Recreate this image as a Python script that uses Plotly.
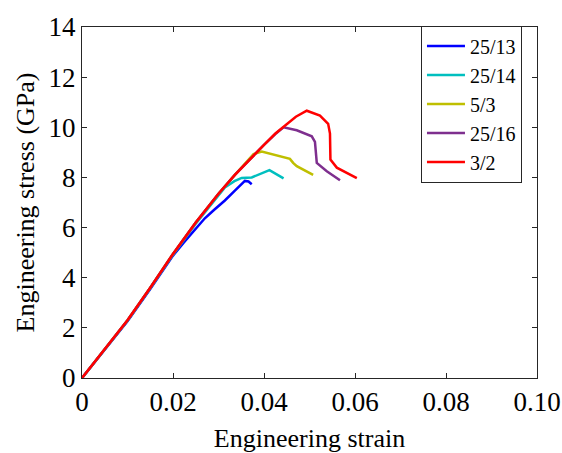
import plotly.graph_objects as go

labels = ["25/13", "25/14", "5/3", "25/16", "3/2"]
colors = ["#0000FF", "#00BFBF", "#BFBF00", "#7E2F8E", "#FF0000"]

strain_25_13 = [0, 0.005, 0.01, 0.015, 0.02, 0.0223, 0.025, 0.027, 0.029, 0.0314, 0.0336, 0.0358, 0.0366, 0.0373]
stress_25_13 = [0, 1.12, 2.26, 3.55, 4.88, 5.39, 5.95, 6.37, 6.7, 7.08, 7.47, 7.86, 7.84, 7.73]

strain_25_14 = [0, 0.005, 0.01, 0.015, 0.02, 0.025, 0.028, 0.0314, 0.0335, 0.0351, 0.0373, 0.0398, 0.0412, 0.0443]
stress_25_14 = [0, 1.13, 2.28, 3.58, 4.92, 6.15, 6.85, 7.6, 7.85, 7.98, 8.0, 8.19, 8.29, 7.96]

strain_5_3 = [0, 0.005, 0.01, 0.015, 0.02, 0.025, 0.03, 0.0336, 0.0365, 0.0377, 0.0395, 0.042, 0.0445, 0.0457, 0.0464, 0.0472, 0.0508]
stress_5_3 = [0, 1.15, 2.3, 3.6, 4.95, 6.2, 7.35, 8.1, 8.68, 8.93, 9.03, 8.92, 8.8, 8.74, 8.58, 8.45, 8.1]

strain_25_16 = [0, 0.005, 0.01, 0.015, 0.02, 0.025, 0.03, 0.0336, 0.037, 0.04, 0.0425, 0.0443, 0.0472, 0.0505, 0.0512, 0.0516, 0.0538, 0.0567]
stress_25_16 = [0, 1.15, 2.3, 3.6, 4.95, 6.2, 7.35, 8.1, 8.75, 9.3, 9.73, 10.0, 9.88, 9.64, 9.42, 8.58, 8.25, 7.89]

strain_3_2 = [0, 0.005, 0.01, 0.015, 0.02, 0.025, 0.03, 0.0336, 0.037, 0.04, 0.0425, 0.0443, 0.047, 0.0494, 0.0523, 0.0541, 0.0545, 0.0546, 0.056, 0.0604]
stress_3_2 = [0, 1.15, 2.3, 3.6, 4.95, 6.2, 7.35, 8.1, 8.75, 9.3, 9.75, 10.03, 10.42, 10.66, 10.47, 10.14, 9.75, 8.71, 8.39, 7.97]

series = [
    (strain_25_13, stress_25_13),
    (strain_25_14, stress_25_14),
    (strain_5_3, stress_5_3),
    (strain_25_16, stress_25_16),
    (strain_3_2, stress_3_2),
]

xticks = [0, 0.02, 0.04, 0.06, 0.08, 0.10]
xticktext = ["0", "0.02", "0.04", "0.06", "0.08", "0.10"]
yticks = [0, 2, 4, 6, 8, 10, 12, 14]

fig = go.Figure()
for (x, y), name, c in zip(series, labels, colors):
    fig.add_trace(go.Scatter(x=x, y=y, mode="lines", name=name,
                             line=dict(color=c, width=2.5)))

font_family = "Liberation Serif"
axis_common = dict(
    showline=True, linecolor="#262626", linewidth=1, mirror="ticks",
    ticks="inside", ticklen=5, tickcolor="#262626", showgrid=False, zeroline=False,
    tickfont=dict(family=font_family, size=27, color="black"),
)

fig.update_layout(
    template="none",
    width=562, height=453,
    margin=dict(l=82, r=25, t=19, b=75),
    paper_bgcolor="white", plot_bgcolor="white",
    font=dict(family=font_family, size=27, color="black"),
    xaxis=dict(range=[0, 0.1], tickvals=xticks, ticktext=xticktext, automargin=False,
               title=dict(text="Engineering strain", font=dict(family=font_family, size=26)),
               **axis_common),
    yaxis=dict(range=[0, 14], tickvals=yticks, automargin=True,
               title=dict(text="Engineering stress (GPa)", font=dict(family=font_family, size=26),
                          standoff=6),
               **axis_common),
    legend=dict(x=0.745, y=1.004, xanchor="left", yanchor="top",
                bgcolor="white", bordercolor="#262626", borderwidth=1,
                font=dict(family=font_family, size=20),
                tracegroupgap=0, itemwidth=38),
    showlegend=True,
)

fig.write_html("out.html")
